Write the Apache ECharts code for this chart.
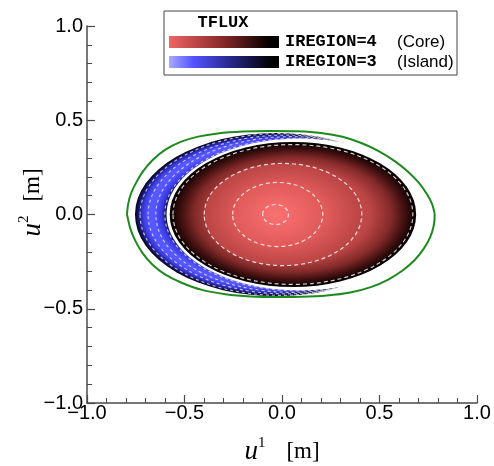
<!DOCTYPE html>
<html><head><meta charset="utf-8">
<script src="https://cdn.jsdelivr.net/npm/echarts@6/dist/echarts.min.js"></script>
<style>html,body{margin:0;padding:0;background:#fff}#c{width:494px;height:466px}</style>
</head><body><div id="c"></div>
<script>
// ---------------- data ----------------
const xTicks = [-1.0, -0.5, 0.0, 0.5, 1.0];
const yTicks = [-1.0, -0.5, 0.0, 0.5, 1.0];
const legendTitle = 'TFLUX';
const regionNames = ['IREGION=4', 'IREGION=3'];
const regionLabels = ['(Core)', '(Island)'];

// Core (IREGION=4) TFLUX contours: [centre u1, centre u2, half-width u1, half-height u2]
const coreContours = [
  [0.056, 0, 0.615, 0.371],
  [0.005, 0, 0.404, 0.271],
  [-0.022, 0, 0.231, 0.170],
  [-0.033, 0, 0.066, 0.053]
];
const coreEdge = [0.056, 0, 0.632, 0.385];

// Island (IREGION=3): outer ellipse, inner (cut) ellipse, TFLUX contours
const islandOuter = [-0.031, 0, 0.723, 0.433];
const islandInner = [0.092, 0, 0.684, 0.403];
const islandContours = [
  [-0.011, 0, 0.717, 0.429],
  [0.020, 0, 0.707, 0.421],
  [0.050, 0, 0.697, 0.413],
  [0.085, 0, 0.686, 0.405]
];

// Green boundary curve (u1, u2)
const boundaryU1 = [-0.795, -0.790, -0.775, -0.750, -0.712, -0.662, -0.600, -0.520, -0.430, -0.330, -0.200, -0.060, 0.080, 0.200, 0.310, 0.410, 0.500, 0.580, 0.645, 0.700, 0.742, 0.770, 0.783,
  0.778, 0.760, 0.728, 0.682, 0.620, 0.545, 0.455, 0.350, 0.230, 0.100, -0.030, -0.160, -0.290, -0.410, -0.515, -0.600, -0.665, -0.715, -0.752, -0.778, -0.795];
const boundaryU2 = [0.000, 0.050, 0.110, 0.165, 0.230, 0.290, 0.343, 0.385, 0.413, 0.430, 0.440, 0.443, 0.441, 0.432, 0.412, 0.378, 0.334, 0.282, 0.228, 0.170, 0.110, 0.055, 0.000,
  -0.060, -0.120, -0.180, -0.240, -0.296, -0.345, -0.385, -0.414, -0.430, -0.437, -0.438, -0.435, -0.423, -0.400, -0.362, -0.318, -0.265, -0.205, -0.140, -0.075, 0.000];

// ---------------- styles ----------------
const coreRamp = [[0, '#f87272'], [0.107, '#f36a6a'], [0.376, '#e05a5a'], [0.657, '#ba4444'], [0.82, '#842a2a'], [0.93, '#421010'], [1, '#160404']];
const islandStops = [[0, '#000010'], [0.765, '#000018'], [0.785, '#1a1a78'], [0.81, '#3838e0'], [0.86, '#5656ff'], [0.9, '#5858ff'], [0.94, '#3c3ce4'], [0.975, '#1a1a78'], [1, '#000010']];
const redBar = [[0, '#f06464'], [0.5, '#842828'], [0.9, '#080101'], [1, '#000000']];
const blueBar = [[0, '#a8a8ff'], [0.22, '#5454ff'], [0.55, '#28288e'], [0.9, '#04040c'], [1, '#000000']];
const dashStyle = {fill: 'none', stroke: 'rgba(255,255,255,0.8)', lineWidth: 1.2, lineDash: [4, 3]};
const islandDashStyle = {fill: 'none', stroke: 'rgba(255,255,255,0.7)', lineWidth: 1.1, lineDash: [3, 3]};

function hex(c) { return [1, 3, 5].map(i => parseInt(c.slice(i, i + 2), 16)); }
function rampColor(ramp, p) {
  for (let i = 1; i < ramp.length; i++) {
    if (p <= ramp[i][0]) {
      const t = (p - ramp[i - 1][0]) / (ramp[i][0] - ramp[i - 1][0]);
      const a = hex(ramp[i - 1][1]), b = hex(ramp[i][1]);
      return 'rgb(' + a.map((v, k) => Math.round(v + (b[k] - v) * t)).join(',') + ')';
    }
  }
  return ramp[ramp.length - 1][1];
}
function stopsOf(arr) { return arr.map(s => ({offset: s[0], color: s[1]})); }
function layerStops(psiOut) {
  const st = [];
  coreRamp.forEach(s => { if (s[0] < psiOut) st.push({offset: s[0] / psiOut, color: s[1]}); });
  st.push({offset: 1, color: rampColor(coreRamp, psiOut)});
  return st;
}
function geom(api) {
  const c = api.coord([api.value(0), api.value(1)]);
  const s = api.size([api.value(2), api.value(3)]);
  return {cx: c[0], cy: c[1], rx: s[0], ry: s[1]};
}
function gradEllipse(g, fill) {
  return {type: 'circle', x: g.cx, y: g.cy, scaleX: g.rx / g.ry, scaleY: 1, shape: {cx: 0, cy: 0, r: g.ry}, style: {fill: fill}};
}
function dashEllipse(g, st) {
  return {type: 'ellipse', shape: {cx: g.cx, cy: g.cy, rx: g.rx, ry: g.ry}, style: st};
}
const fmt = v => (v < 0 ? '\u2212' : '') + Math.abs(v).toFixed(1);

const axisCommon = {
  type: 'value',
  axisLine: {show: true, onZero: false, lineStyle: {color: '#4a4a4a', width: 1.5}},
  axisTick: {show: true, inside: true, length: 8, lineStyle: {color: '#4a4a4a', width: 1.2}},
  minorTick: {show: true, splitNumber: 5, length: 5, lineStyle: {color: '#4a4a4a', width: 1}},
  splitLine: {show: false},
  nameLocation: 'middle',
  nameMoveOverlap: false
};
function nameRich(lead, gap) {
  return {
    u: {fontFamily: 'Liberation Serif', fontStyle: 'italic', fontSize: 27, color: '#000', padding: [0, 0, 0, lead]},
    sup: {fontFamily: 'Liberation Serif', fontSize: 15, color: '#000', padding: [0, 0, 16, 0]},
    m: {fontFamily: 'Liberation Serif', fontSize: 23, color: '#000', padding: [0, 0, 0, gap]}
  };
}

const chart = echarts.init(document.getElementById('c'), null, {renderer: 'canvas'});
chart.setOption({
  animation: false,
  backgroundColor: '#fff',
  grid: {left: 87, right: 17, top: 26, bottom: 63, outerBoundsMode: 'none', containLabel: false},
  xAxis: Object.assign({}, axisCommon, {
    min: xTicks[0], max: xTicks[xTicks.length - 1], interval: xTicks[1] - xTicks[0],
    axisLabel: {fontFamily: 'Liberation Sans', fontSize: 20, color: '#000', margin: 0, formatter: fmt, showMinLabel: true, showMaxLabel: true},
    name: '{u|u}{sup|1}{m|[m]}', nameGap: 33, nameTextStyle: {rich: nameRich(0, 21)}
  }),
  yAxis: Object.assign({}, axisCommon, {
    min: yTicks[0], max: yTicks[yTicks.length - 1], interval: yTicks[1] - yTicks[0],
    axisLabel: {fontFamily: 'Liberation Sans', fontSize: 20, color: '#000', margin: 4, formatter: fmt, showMinLabel: true, showMaxLabel: true},
    name: '{u|u}{sup|2}{m|[m]}', nameGap: 39, nameRotate: 90, nameTextStyle: {rich: nameRich(24, 14)}
  }),
  series: [
    {type: 'custom', z: 2, silent: true, data: [islandOuter], encode: {x: 0, y: 1},
      renderItem: (p, api) => gradEllipse(geom(api), new echarts.graphic.RadialGradient(0.5, 0.5, 0.5, stopsOf(islandStops)))},
    {type: 'custom', z: 3, silent: true, data: islandContours, encode: {x: 0, y: 1},
      renderItem: (p, api) => dashEllipse(geom(api), islandDashStyle)},
    {type: 'custom', z: 4, silent: true, data: [islandInner], encode: {x: 0, y: 1},
      renderItem: (p, api) => { const g = geom(api); return {type: 'ellipse', shape: {cx: g.cx, cy: g.cy, rx: g.rx, ry: g.ry}, style: {fill: '#fff'}}; }},
    {type: 'custom', z: 5, silent: true, data: [coreEdge].concat(coreContours), encode: {x: 0, y: 1},
      renderItem: (p, api) => {
        const g = geom(api);
        if (p.dataIndex === 0) return gradEllipse(g, '#080000');
        const psi = api.value(2) / coreContours[0][2];
        return gradEllipse(g, new echarts.graphic.RadialGradient(0.5, 0.5, 0.5, layerStops(psi)));
      }},
    {type: 'custom', z: 6, silent: true, data: coreContours, encode: {x: 0, y: 1},
      renderItem: (p, api) => dashEllipse(geom(api), dashStyle)},
    {type: 'line', z: 7, silent: true, showSymbol: false, smooth: 0.15,
      data: boundaryU1.map((u, i) => [u, boundaryU2[i]]),
      lineStyle: {color: '#1e8a1e', width: 2}}
  ],
  graphic: [
    {type: 'rect', x: 164, y: 11, shape: {x: 0, y: 0, width: 293, height: 64}, style: {fill: '#fff', stroke: '#444', lineWidth: 1}, z: 100},
    {type: 'text', x: 223, y: 23, z: 101, style: {text: legendTitle, font: 'bold 17px "Liberation Mono"', fill: '#000', align: 'center', verticalAlign: 'middle', textAlign: 'center', textVerticalAlign: 'middle'}},
    {type: 'rect', x: 169, y: 36, z: 101, shape: {x: 0, y: 0, width: 110, height: 12}, style: {fill: new echarts.graphic.LinearGradient(0, 0, 1, 0, stopsOf(redBar))}},
    {type: 'rect', x: 169, y: 56, z: 101, shape: {x: 0, y: 0, width: 110, height: 12}, style: {fill: new echarts.graphic.LinearGradient(0, 0, 1, 0, stopsOf(blueBar))}},
    {type: 'text', x: 285, y: 42, z: 101, style: {text: regionNames[0], font: 'bold 17px "Liberation Mono"', fill: '#000', align: 'left', verticalAlign: 'middle', textAlign: 'left', textVerticalAlign: 'middle'}},
    {type: 'text', x: 285, y: 62, z: 101, style: {text: regionNames[1], font: 'bold 17px "Liberation Mono"', fill: '#000', align: 'left', verticalAlign: 'middle', textAlign: 'left', textVerticalAlign: 'middle'}},
    {type: 'text', x: 397, y: 42, z: 101, style: {text: regionLabels[0], font: '17px "Liberation Sans"', fill: '#000', align: 'left', verticalAlign: 'middle', textAlign: 'left', textVerticalAlign: 'middle'}},
    {type: 'text', x: 397, y: 62, z: 101, style: {text: regionLabels[1], font: '17px "Liberation Sans"', fill: '#000', align: 'left', verticalAlign: 'middle', textAlign: 'left', textVerticalAlign: 'middle'}}
  ]
});
</script></body></html>
